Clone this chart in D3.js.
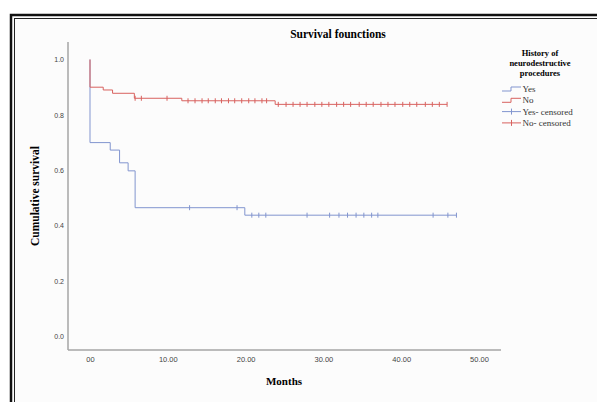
<!DOCTYPE html>
<html>
<head>
<meta charset="utf-8">
<script src="https://cdn.jsdelivr.net/npm/d3@7"></script>
<style>
  body { margin: 0; background: #fff; }
  svg { display: block; }
</style>
</head>
<body>
<div id="chart"></div>
<script>
// Kaplan-Meier steps (months, cumulative survival)
const yesStepTimes = [0, 0, 2.6, 3.8, 4.9, 5.8, 19.9];
const yesStepValues = [1.0, 0.7, 0.673, 0.627, 0.598, 0.465, 0.438];
const yesEnd = 47.1;
const yesCensored = [12.8, 18.9, 20.8, 21.7, 22.6, 27.9, 30.8, 32.0, 33.1, 34.2, 35.2, 36.2, 37.0, 44.1, 46.0, 47.1];

const noStepTimes = [0, 0, 1.7, 2.9, 5.7, 11.8, 23.8];
const noStepValues = [1.0, 0.9, 0.89, 0.878, 0.86, 0.851, 0.838];
const noEnd = 45.9;
const noCensored = [5.8, 6.6, 9.9, 12.6, 13.5, 14.4, 15.2, 16.1, 16.9, 17.8, 18.6, 19.5, 20.4, 21.2, 22.1, 22.7,
  24.2, 25.2, 26.1, 27.0, 27.9, 28.9, 29.8, 30.7, 31.7, 32.6, 33.5, 34.6, 35.5, 36.4, 37.4, 38.3,
  39.2, 40.2, 41.1, 42.0, 43.1, 44.0, 44.9, 45.9];

const yTicks = [0, 0.2, 0.4, 0.6, 0.8, 1.0];
const xTicks = [0, 10, 20, 30, 40, 50];
const xTickLabels = ["00", "10.00", "20.00", "30.00", "40.00", "50.00"];

const legendTitle = ["History of", "neurodestructive", "procedures"];
const legendItems = ["Yes", "No", "Yes- censored", "No- censored"];

const width = 597, height = 402;
const blue = "#8295cf", red = "#d8625f";

const svg = d3.select("#chart").append("svg")
  .attr("width", width)
  .attr("height", height);

// double frame
svg.append("rect")
  .attr("x", 11).attr("y", 15)
  .attr("width", 600).attr("height", 400)
  .attr("fill", "#fcfcfc")
  .attr("stroke", "#111").attr("stroke-width", 2.5);
svg.append("rect")
  .attr("x", 14.5).attr("y", 18.5)
  .attr("width", 600).attr("height", 400)
  .attr("fill", "none")
  .attr("stroke", "#222").attr("stroke-width", 1);

const x = d3.scaleLinear().domain([0, 50]).range([90, 479]);
const y = d3.scaleLinear().domain([0, 1]).range([336.5, 59.5]);

// axis lines
svg.append("line")
  .attr("x1", 68).attr("x2", 68).attr("y1", 42).attr("y2", 350)
  .attr("stroke", "#a6a6a6").attr("stroke-width", 1.5);
svg.append("line")
  .attr("x1", 68).attr("x2", 501).attr("y1", 350).attr("y2", 350)
  .attr("stroke", "#a6a6a6").attr("stroke-width", 1.5);

const yAxis = svg.append("g")
  .attr("transform", "translate(64,0)")
  .call(d3.axisLeft(y).tickValues(yTicks).tickSize(0).tickFormat(d3.format(".1f")));
yAxis.select(".domain").remove();
yAxis.selectAll("text")
  .attr("x", 0)
  .style("font-family", "'Liberation Sans', sans-serif")
  .style("font-size", "7px")
  .attr("fill", "#444");

const xAxis = svg.append("g")
  .attr("transform", "translate(0,357)")
  .call(d3.axisBottom(x).tickValues(xTicks).tickSize(0).tickFormat((d, i) => xTickLabels[i]));
xAxis.select(".domain").remove();
xAxis.selectAll("text")
  .attr("y", 0)
  .style("font-family", "'Liberation Sans', sans-serif")
  .style("font-size", "7.5px")
  .attr("fill", "#444");

// step curves
function stepPoints(times, values, end) {
  const pts = times.map((t, i) => [t, values[i]]);
  pts.push([end, values[values.length - 1]]);
  return pts;
}
function valueAt(times, values, t) {
  const i = d3.bisectRight(times, t) - 1;
  return values[Math.max(0, i)];
}

const line = d3.line()
  .x(d => x(d[0]))
  .y(d => y(d[1]))
  .curve(d3.curveStepAfter);

const series = [
  { times: yesStepTimes, values: yesStepValues, end: yesEnd, cens: yesCensored, color: blue },
  { times: noStepTimes, values: noStepValues, end: noEnd, cens: noCensored, color: red }
];

series.forEach(s => {
  svg.append("path")
    .datum(stepPoints(s.times, s.values, s.end))
    .attr("d", line)
    .attr("fill", "none")
    .attr("stroke", s.color)
    .attr("stroke-width", 1);

  svg.selectAll(null)
    .data(s.cens)
    .join("line")
    .attr("x1", d => x(d)).attr("x2", d => x(d))
    .attr("y1", d => y(valueAt(s.times, s.values, d)) - 2.5)
    .attr("y2", d => y(valueAt(s.times, s.values, d)) + 2.5)
    .attr("stroke", s.color)
    .attr("stroke-width", 1);
});

// titles
svg.append("text")
  .attr("x", 338).attr("y", 38)
  .attr("text-anchor", "middle")
  .style("font-family", "'Liberation Serif', serif")
  .style("font-weight", "bold")
  .style("font-size", "11.5px")
  .text("Survival founctions");

svg.append("text")
  .attr("transform", "translate(39,196) rotate(-90)")
  .attr("text-anchor", "middle")
  .style("font-family", "'Liberation Serif', serif")
  .style("font-weight", "bold")
  .style("font-size", "11.5px")
  .text("Cumulative survival");

svg.append("text")
  .attr("x", 284).attr("y", 385)
  .attr("text-anchor", "middle")
  .style("font-family", "'Liberation Serif', serif")
  .style("font-weight", "bold")
  .style("font-size", "11px")
  .text("Months");

// legend
const legend = svg.append("g");
legend.selectAll("text.title")
  .data(legendTitle)
  .join("text")
  .attr("class", "title")
  .attr("x", 540)
  .attr("y", (d, i) => 55.5 + i * 10)
  .attr("text-anchor", "middle")
  .style("font-family", "'Liberation Serif', serif")
  .style("font-weight", "bold")
  .style("font-size", "8.5px")
  .text(d => d);

const legendColors = [blue, red, blue, red];
legendItems.forEach((label, i) => {
  const ly = 89 + i * 11.3;
  if (i < 2) {
    legend.append("path")
      .attr("d", `M502,${ly + 2}H511V${ly - 2}H521`)
      .attr("fill", "none")
      .attr("stroke", legendColors[i]);
  } else {
    legend.append("path")
      .attr("d", `M502,${ly}H521M511.5,${ly - 3}V${ly + 3}`)
      .attr("fill", "none")
      .attr("stroke", legendColors[i]);
  }
  legend.append("text")
    .attr("x", 522.5)
    .attr("y", ly + 3)
    .style("font-family", "'Liberation Serif', serif")
    .style("font-size", "9px")
    .attr("fill", "#333")
    .text(label);
});
</script>
</body>
</html>
